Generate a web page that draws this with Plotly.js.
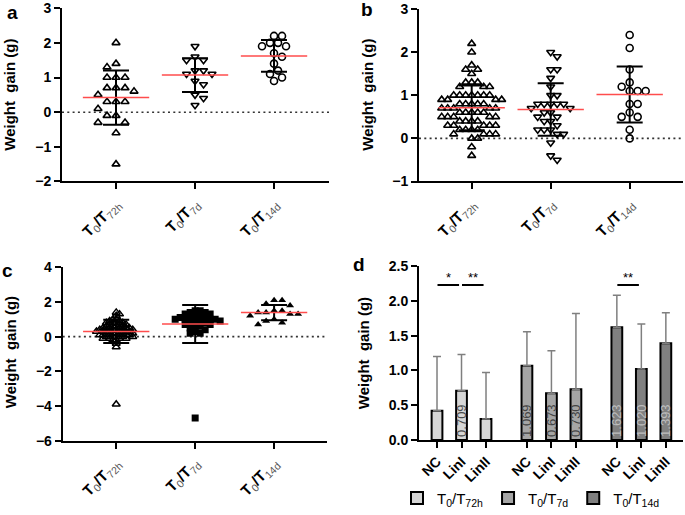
<!DOCTYPE html>
<html><head><meta charset="utf-8">
<script src="https://cdn.plot.ly/plotly-3.0.1.min.js"></script>
<style>html,body{margin:0;padding:0;background:#fff}#chart{width:685px;height:515px}</style>
</head><body><div id="chart"></div>
<script>
// ---------- data ----------
const periods = ['72h', '7d', '14d'];
const groups = ['NC', 'LinI', 'LinII'];

// panel a (NC)
const a72h = [2.0, 1.4, 1.3, 1.0, 1.0, 1.0, 0.7, 0.7, 0.7, 0.6, 0.5, 0.3, 0.3, 0.3, 0.1, -0.1, -0.1, -0.3, -0.3, -0.6, -1.5];
const a7d  = [1.9, 1.6, 1.5, 1.5, 1.2, 1.2, 1.1, 1.1, 0.9, 0.8, 0.5, 0.4, 0.2];
const a14d = [2.2, 2.2, 2.0, 2.0, 1.9, 1.9, 1.7, 1.6, 1.4, 1.2, 1.1, 1.0, 0.9];
const aMean = [0.420, 1.069, 1.623];
const aSD   = [0.78, 0.49, 0.46];

// panel b (LinI)
const b72h = [2.2, 2.0, 1.7, 1.6, 1.6, 1.5, 1.3, 1.3, 1.3, 1.2, 1.2, 1.2,
  1.0, 1.0, 1.0, 1.0, 1.0, 1.0, 1.0, 0.9, 0.9, 0.9, 0.9, 0.8, 0.8, 0.8, 0.8, 0.8,
  0.7, 0.7, 0.7, 0.7, 0.7, 0.6, 0.6, 0.6, 0.6, 0.6, 0.5, 0.5, 0.5, 0.5, 0.5,
  0.4, 0.4, 0.4, 0.4, 0.3, 0.3, 0.3, 0.3, 0.3, 0.2, 0.2, 0.2, 0.2,
  0.1, 0.1, 0.1, 0.1, 0.0, 0.0, -0.2, -0.4];
const b7d  = [2.0, 1.9, 1.6, 1.6, 1.4, 1.2, 1.0, 1.0, 0.8, 0.8, 0.8, 0.8, 0.8,
  0.7, 0.7, 0.6, 0.6, 0.5, 0.5, 0.4, 0.4, 0.3, 0.2, 0.2, 0.2, 0.1, 0.1, -0.1, -0.4, -0.5];
const b14d = [2.4, 2.1, 1.6, 1.3, 1.2, 1.1, 1.1, 1.1, 0.8, 0.8, 0.6, 0.5, 0.5, 0.2, 0.0];
const bMean = [0.709, 0.673, 1.020];
const bSD   = [0.52, 0.61, 0.65];

// panel c (LinII)
const c72h = [1.4, 1.3, 1.2, 1.0, 1.0, 0.9, 0.9, 0.8, 0.8, 0.8, 0.8, 0.7, 0.7, 0.7,
  0.6, 0.6, 0.6, 0.6, 0.5, 0.5, 0.5, 0.5, 0.5, 0.4, 0.4, 0.4, 0.4, 0.4, 0.4,
  0.3, 0.3, 0.3, 0.3, 0.3, 0.3, 0.2, 0.2, 0.2, 0.2, 0.2, 0.1, 0.1, 0.1, 0.1, 0.1, 0.1,
  0.0, 0.0, 0.0, 0.0, 0.0, -0.1, -0.1, -0.1, -0.1, -0.2, -0.2, -0.4, -0.6, -3.9];
const c7d  = [1.5, 1.5, 1.4, 1.4, 1.3, 1.3, 1.2, 1.2, 1.1, 1.1, 1.1, 1.0, 1.0, 1.0, 1.0,
  0.9, 0.9, 0.9, 0.8, 0.8, 0.7, 0.7, 0.6, 0.6, 0.5, 0.4, 0.3, 0.2, 0.2, -4.7];
const c14d = [2.1, 2.1, 1.9, 1.8, 1.5, 1.5, 1.4, 1.4, 1.3, 1.3, 1.2, 1.0, 0.9, 0.8, 0.7];
const cMean = [0.300, 0.730, 1.393];
const cSD   = [0.67, 1.09, 0.44];

// significance marks in panel d: [period, from group, to group, label]
const sigPairs = [[0, 0, 1, '*'], [0, 1, 2, '**'], [2, 0, 1, '**']];
const sigLevel = 2.23;

// ---------- helpers ----------
const FONT = "Arial, 'Liberation Sans', sans-serif";
const W = 685, H = 515;
const px = v => v / W;
const py = v => 1 - v / H;

function swarm(vals, pxPerY, pxPerCat, d) {
  const idx = vals.map((v, i) => i).sort((p, q) => vals[q] - vals[p]);
  const placed = [];
  const out = new Array(vals.length).fill(0);
  const step = d / 2;
  idx.forEach((i, n) => {
    const y = vals[i] * pxPerY;
    for (let k = 0; k < 400; k++) {
      const mag = Math.ceil(k / 2) * step;
      const s = (n % 2) ? 1 : -1;
      const x = k === 0 ? 0 : (k % 2 === 1 ? s * mag : -s * mag);
      if (placed.every(p => (p.x - x) ** 2 + (p.y - y) ** 2 >= d * d * 0.999)) {
        placed.push({x, y}); out[i] = x / pxPerCat; break;
      }
    }
  });
  return out;
}

const tickLbl = periods.map(p =>
  '<b>T</b><sub><span style="color:#555">0</span></sub><b>/T</b><sub><span style="color:#555">' + p + '</span></sub>');

const traces = [];
function dotPanel(sets, symbols, means, sds, xa, ya, pxPerY, dists, lineW) {
  sets.forEach((vals, g) => {
    const off = swarm(vals, pxPerY, 79, dists[g]);
    traces.push({
      type: 'scatter', mode: 'markers', xaxis: xa, yaxis: ya, showlegend: false,
      x: vals.map((v, i) => g + off[i]), y: vals,
      marker: {symbol: symbols[g], size: 7, color: '#000', line: {color: '#000', width: lineW[g]}},
      hoverinfo: 'skip'
    });
  });
  traces.push({
    type: 'scatter', mode: 'markers', xaxis: xa, yaxis: ya, showlegend: false,
    x: [0, 1, 2], y: means, marker: {size: 1, opacity: 0},
    error_y: {type: 'data', array: sds, color: '#000', thickness: 2, width: 13},
    error_x: {type: 'constant', value: 0.42, color: '#ff4d4d', thickness: 1.5, width: 0},
    hoverinfo: 'skip'
  });
}

dotPanel([a72h, a7d, a14d], ['triangle-up-open', 'triangle-down-open', 'circle-open'],
  aMean, aSD, 'x', 'y', 35.1, [9, 8.5, 8], [1.6, 1.6, 1.6]);
dotPanel([b72h, b7d, b14d], ['triangle-up-open', 'triangle-down-open', 'circle-open'],
  bMean, bSD, 'x2', 'y2', 43.7, [6, 6.5, 8], [1.6, 1.6, 1.6]);
dotPanel([c72h, c7d, c14d], ['triangle-up-open', 'square', 'triangle-up'],
  cMean, cSD, 'x3', 'y3', 17.6, [3.3, 5, 8], [1.5, 0, 0]);

// panel d bars
const gap = 3.67;
const barFill = ['#d6d6d6', '#a5a5a5', '#808080'];
const barText = ['#4a4a4a', '#444444', '#bdbdbd'];
const dPxPerUnit = 70.4;      // used only to decide whether a value label fits in its bar
const labelLen = 34;
const pos = (p, g) => p * gap + g;
periods.forEach((p, pi) => {
  const ys = [aMean[pi], bMean[pi], cMean[pi]];
  const es = [aSD[pi], bSD[pi], cSD[pi]];
  traces.push({
    type: 'bar', xaxis: 'x4', yaxis: 'y4',
    name: 'T<sub>0</sub>/T<sub>' + p + '</sub>',
    x: groups.map((g, gi) => pos(pi, gi)), y: ys, width: 0.44,
    marker: {color: barFill[pi], line: {color: '#000', width: 2}},
    text: ys.map(v => v * dPxPerUnit > labelLen ? v.toFixed(3) : ''),
    textposition: 'inside', insidetextanchor: 'start', constraintext: 'none',
    textangle: -90, textfont: {family: FONT, size: 13, color: barText[pi]},
    error_y: {type: 'data', symmetric: false, array: es, arrayminus: [0, 0, 0],
      color: '#7f7f7f', thickness: 1.5, width: 4},
    hoverinfo: 'skip'
  });
});

// ---------- layout ----------
const axBase = {
  showline: true, linecolor: '#000', linewidth: 2, ticks: 'outside', ticklen: 6,
  tickwidth: 2, tickcolor: '#000', showgrid: false, zeroline: false,
  tickfont: {family: FONT, size: 14, color: '#000', weight: 'bold'}
};
const xCat = Object.assign({}, axBase, {
  tickvals: [0, 1, 2], ticktext: tickLbl, tickangle: -45,
  tickfont: {family: FONT, size: 15, color: '#000'}
});

const shapes = [];
[['x', 'y'], ['x2', 'y2'], ['x3', 'y3']].forEach(([xa, ya]) => {
  shapes.push({type: 'line', xref: xa + ' domain', yref: ya, x0: 0, x1: 1, y0: 0, y1: 0,
    line: {color: '#333', width: 1.6, dash: '2px,3.3px'}, layer: 'below'});
});
const annotations = [];
sigPairs.forEach(([p, g0, g1, lbl]) => {
  shapes.push({type: 'line', xref: 'x4', yref: 'y4', x0: pos(p, g0) + 0.02, x1: pos(p, g1) - 0.1,
    y0: sigLevel, y1: sigLevel, line: {color: '#000', width: 2}});
  annotations.push({xref: 'x4', yref: 'y4', x: (pos(p, g0) + pos(p, g1)) / 2 - 0.04, y: sigLevel,
    yanchor: 'bottom', text: lbl, showarrow: false, yshift: -2,
    font: {family: FONT, size: 13, color: '#000'}});
});
[['a', 12, 13], ['b', 367, 10], ['c', 8, 274], ['d', 359, 268]].forEach(([t, x, y]) => {
  annotations.push({xref: 'paper', yref: 'paper', x: px(x), y: py(y), text: t, showarrow: false,
    xanchor: 'center', yanchor: 'middle', font: {family: FONT, size: 19, color: '#000', weight: 'bold'}});
});
[[10, 96], [368, 96], [10, 357], [363, 358]].forEach(([x, y]) => {
  annotations.push({xref: 'paper', yref: 'paper', x: px(x), y: py(y), text: 'Weight  gain (g)',
    showarrow: false, textangle: -90, xanchor: 'center', yanchor: 'middle',
    font: {family: FONT, size: 15, color: '#000', weight: 'bold'}});
});

const layout = {
  width: W, height: H, margin: {l: 0, r: 0, t: 0, b: 0},
  paper_bgcolor: '#fff', plot_bgcolor: 'rgba(0,0,0,0)',
  font: {family: FONT, color: '#000'},
  showlegend: true, barmode: 'overlay',
  legend: {orientation: 'h', x: px(397), xanchor: 'left', y: py(505), yanchor: 'middle',
    font: {family: FONT, size: 15, color: '#000'}, bgcolor: 'rgba(0,0,0,0)', itemwidth: 30},
  xaxis: Object.assign({}, xCat, {domain: [px(62), px(329)], range: [-0.684, 2.696], anchor: 'y'}),
  yaxis: Object.assign({}, axBase, {domain: [py(184), py(8.3)], range: [-2, 3], dtick: 1, anchor: 'x'}),
  xaxis2: Object.assign({}, xCat, {domain: [px(419), px(683)], range: [-0.667, 2.675], anchor: 'y2'}),
  yaxis2: Object.assign({}, axBase, {domain: [py(184), py(9.3)], range: [-1, 3], dtick: 1, anchor: 'x2'}),
  xaxis3: Object.assign({}, xCat, {domain: [px(62.7), px(327)], range: [-0.678, 2.67], anchor: 'y3'}),
  yaxis3: Object.assign({}, axBase, {domain: [py(446.7), py(271)], range: [-6, 4], dtick: 2, anchor: 'x3'}),
  xaxis4: Object.assign({}, axBase, {domain: [px(419), px(683)], range: [-0.735, 10.04], anchor: 'y4',
    tickvals: periods.flatMap((p, pi) => groups.map((g, gi) => pos(pi, gi))),
    ticktext: periods.flatMap(() => groups), tickangle: -45}),
  yaxis4: Object.assign({}, axBase, {domain: [py(446), py(270)], range: [0, 2.5], dtick: 0.5,
    tickformat: '.1f', anchor: 'x4'}),
  shapes, annotations
};

Plotly.newPlot('chart', traces, layout, {displayModeBar: false, staticPlot: true});
</script></body></html>
